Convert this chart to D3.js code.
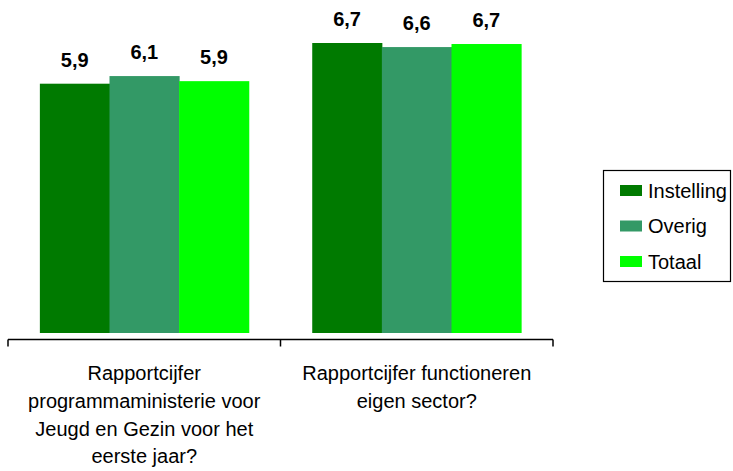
<!DOCTYPE html>
<html><head><meta charset="utf-8">
<script src="https://cdn.jsdelivr.net/npm/d3@7"></script>
<style>body{margin:0;background:#fff}svg{display:block;font-family:"Liberation Sans",Arial,sans-serif}</style>
</head><body>
<svg id="c" width="733" height="471"></svg>
<script>
const categories = [
  ["Rapportcijfer","programmaministerie voor","Jeugd en Gezin voor het","eerste jaar?"],
  ["Rapportcijfer functioneren","eigen sector?"]
];
const seriesNames = ["Instelling","Overig","Totaal"];
const colors = ["#007a00","#339966","#00ff00"];
const instelling = [5.9, 6.7];
const overig = [6.05, 6.62];
const totaal = [5.95, 6.68];
const labels = [["5,9","6,7"],["6,1","6,6"],["5,9","6,7"]];
const series = [instelling, overig, totaal];

const svg = d3.select("#c");
const x0 = d3.scaleBand().domain([0,1]).range([8,553]).paddingInner(0.233).paddingOuter(0.117);
const x1 = d3.scaleBand().domain([0,1,2]).range([0, x0.bandwidth()]);
const y = d3.scaleLinear().domain([1,6.7]).range([333,43]);

const g = svg.append("g");
series.forEach((vals,si)=>{
  g.selectAll(null).data(vals).enter().append("rect")
    .attr("x",(d,i)=>x0(i)+x1(si))
    .attr("y",d=>y(d))
    .attr("width",x1.bandwidth()+0.5)
    .attr("height",d=>y(1)-y(d))
    .attr("fill",colors[si]);
  g.selectAll(null).data(vals).enter().append("text")
    .attr("x",(d,i)=>x0(i)+x1(si)+x1.bandwidth()/2)
    .attr("y",d=>y(d)-17)
    .attr("text-anchor","middle")
    .attr("font-weight","bold").attr("font-size","20px").attr("fill","#000")
    .text((d,i)=>labels[si][i]);
});

// axis
const xa = d3.scaleLinear().domain([0,2]).range([8,553]);
const ax = svg.append("g").attr("transform","translate(0,339.5)");
ax.append("line").attr("x1",xa(0)).attr("x2",xa(2)).attr("stroke","#000").attr("stroke-width",1.5);
ax.selectAll(null).data([0,1,2]).enter().append("line")
  .attr("x1",d=>xa(d)).attr("x2",d=>xa(d)).attr("y1",0).attr("y2",7)
  .attr("stroke","#000").attr("stroke-width",1.5);

categories.forEach((lines,i)=>{
  const t = svg.append("text").attr("text-anchor","middle").attr("font-size","20px").attr("fill","#000");
  lines.forEach((l,j)=>{
    t.append("tspan").attr("x",(xa(i)+xa(i+1))/2).attr("y",380+j*27.8).text(l);
  });
});

// legend
const lg = svg.append("g");
lg.append("rect").attr("x",603.5).attr("y",170.5).attr("width",127).attr("height",111)
  .attr("fill","#fff").attr("stroke","#000").attr("stroke-width",1.2);
seriesNames.forEach((n,i)=>{
  const cy = 190.5 + i*35.5;
  lg.append("rect").attr("x",620).attr("y",cy-5.5).attr("width",22).attr("height",11).attr("fill",colors[i]);
  lg.append("text").attr("x",648).attr("y",cy+7).attr("font-size","20px").attr("fill","#000").text(n);
});
</script>
</body></html>
